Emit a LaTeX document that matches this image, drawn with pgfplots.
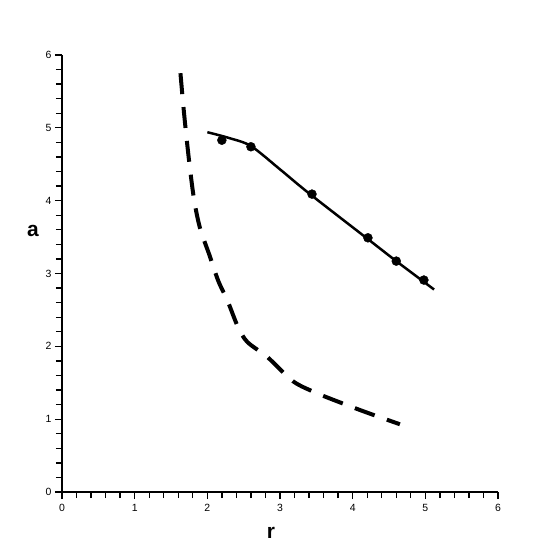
\documentclass[border=0pt]{standalone}
\usepackage{pgfplots}
\pgfplotsset{compat=1.18}
\usepackage{fontspec}
\setmainfont{Liberation Sans}
\begin{document}
\begin{tikzpicture}
\useasboundingbox (-62bp,-64bp) rectangle (494bp,492bp);
\begin{axis}[
  scale only axis, width=436bp, height=437bp,
  xmin=0, xmax=6, ymin=0, ymax=6,
  axis x line=bottom, axis y line=left,
  axis line style={-, line width=1.5bp, shorten <=-6bp},
  xtick={0,...,6}, ytick={0,...,6},
  minor tick num=4,
  tick align=outside,
  major tick length=7bp, minor tick length=6bp,
  tick style={black, line width=1.3bp},
  ticklabel style={font=\fontsize{10.5}{10.5}\selectfont},
  xticklabel style={yshift=-2bp},
  /pgf/number format/assume math mode=true,
  xlabel={r}, ylabel={a},
  label style={font=\fontsize{21}{21}\selectfont\bfseries},
  xlabel style={at={(axis description cs:0.479,-0.094)}, anchor=center},
  ylabel style={at={(axis description cs:-0.0665,0.597)}, anchor=center, rotate=-90},
]
% solid curve
\addplot[black, line width=2.5bp, smooth] coordinates {
  (2.00,4.94) (2.30,4.86) (2.60,4.75) (3.00,4.43) (3.40,4.10)
  (4.20,3.48) (4.60,3.17) (5.12,2.78)
};
\addplot[black, only marks, mark=*, mark size=4.5bp] coordinates {
  (2.20,4.83) (2.60,4.74) (3.44,4.09) (4.21,3.49) (4.60,3.17) (4.98,2.91)
};
% dashed curve
\addplot[black, line width=4bp, smooth, dash pattern=on 21bp off 13bp] coordinates {
  (1.63,5.75) (1.67,5.30) (1.71,4.90) (1.76,4.45) (1.82,4.00) (1.90,3.62)
  (2.03,3.25) (2.15,2.90) (2.28,2.62) (2.42,2.27) (2.55,2.06) (2.83,1.85)
  (3.18,1.52) (3.50,1.36) (3.80,1.24) (4.17,1.10) (4.65,0.93)
};
\end{axis}
\end{tikzpicture}
\end{document}
